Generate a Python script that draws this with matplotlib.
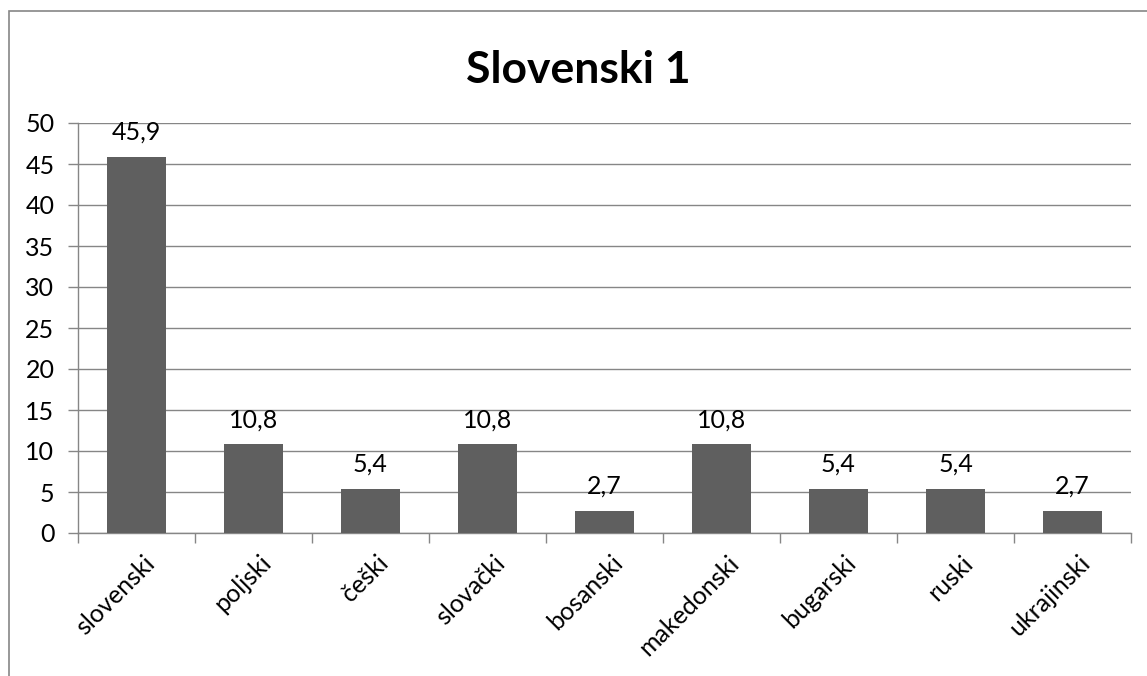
import matplotlib
import matplotlib.pyplot as plt
import numpy as np
from matplotlib.patches import Rectangle

plt.rcParams['font.family'] = ['Lato', 'DejaVu Sans']

jezici = ['slovenski', 'poljski', 'češki', 'slovački', 'bosanski',
          'makedonski', 'bugarski', 'ruski', 'ukrajinski']
vrijednosti = [45.9, 10.8, 5.4, 10.8, 2.7, 10.8, 5.4, 5.4, 2.7]
y_ticks = [0, 5, 10, 15, 20, 25, 30, 35, 40, 45, 50]

fig = plt.figure(figsize=(11.47, 6.76), dpi=100)
W, H = 1147, 676
# plot area in pixels: x 78..1131, y 123..533 (top to bottom)
ax = fig.add_axes([78 / W, 1 - 533 / H, (1131 - 78) / W, (533 - 123) / H])

x = np.arange(len(jezici))
ax.bar(x, vrijednosti, width=0.5, color='#5f5f5f', zorder=3)
for xi, v in zip(x, vrijednosti):
    ax.text(xi, v + 1.6, f"{v:.1f}".replace('.', ','), ha='center', va='bottom',
            fontsize=18, color='black')

ax.set_xlim(-0.5, len(jezici) - 0.5)
ax.set_ylim(0, 50)
ax.set_yticks(y_ticks)
ax.tick_params(axis='y', labelsize=18, length=7, color='#868686', width=1, pad=10)
ax.yaxis.grid(True, color='#868686', linewidth=1, zorder=0)

ax.set_xticks(x + 0.05)
ax.set_xticklabels(jezici, rotation=45, ha='right', rotation_mode='anchor', fontsize=18)
ax.set_xticks(np.arange(-0.5, len(jezici)), minor=True)
ax.tick_params(axis='x', which='major', length=0, pad=13)
ax.tick_params(axis='x', which='minor', length=7, color='#868686', width=1)

for s in ['top', 'right']:
    ax.spines[s].set_visible(False)
for s in ['left', 'bottom']:
    ax.spines[s].set_color('#868686')
    ax.spines[s].set_linewidth(1)

fig.text(578 / W, 1 - 70 / H, 'Slovenski 1', ha='center', va='center',
         fontsize=32, fontweight='bold')

# chart frame
fig.patches.append(Rectangle((9 / W, -0.1), 1.2, 1 - 11 / H + 0.1,
                             transform=fig.transFigure, fill=False,
                             edgecolor='#868686', linewidth=1.2))

fig.savefig('out.png', dpi=100)
